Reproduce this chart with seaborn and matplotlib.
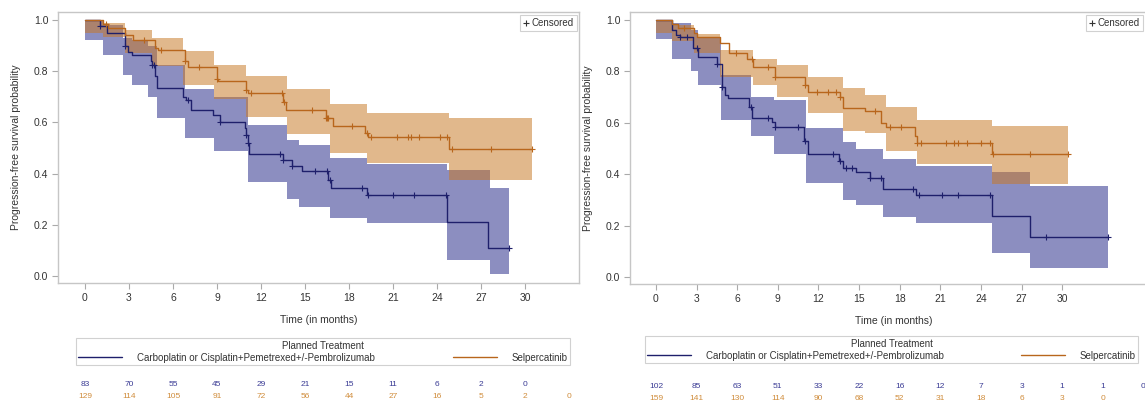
import numpy as np
import pandas as pd
import matplotlib
matplotlib.use("Agg")
import matplotlib.pyplot as plt
import seaborn as sns
from matplotlib.lines import Line2D
from matplotlib import transforms

sns.set_theme(style="white")
plt.rcParams["font.family"] = ["Liberation Sans", "DejaVu Sans"]

ARMS = ["Carboplatin or Cisplatin+Pemetrexed+/-Pembrolizumab", "Selpercatinib"]
LEGEND_TITLE = "Planned Treatment"
X_LABEL = "Time (in months)"
Y_LABEL = "Progression-free survival probability"
X_TICKS = list(range(0, 31, 3))
Y_TICKS = [0.0, 0.2, 0.4, 0.6, 0.8, 1.0]

# ---- Left panel: Kaplan-Meier steps (time of change, survival after it) ----
L_CHEMO_T = [0, 1.0, 1.5, 2.7, 2.9, 3.2, 4.5, 4.6, 4.8, 4.9, 6.7, 6.9, 7.2, 8.7, 9.2,
             10.9, 11.0, 11.1, 11.2, 13.5, 14.1, 14.8, 16.6, 16.8, 19.2, 24.7, 27.5]
L_CHEMO_S = [1.0, 0.975, 0.95, 0.90, 0.875, 0.863, 0.84, 0.824, 0.78, 0.734, 0.70, 0.687, 0.648, 0.629, 0.60,
             0.58, 0.55, 0.52, 0.477, 0.455, 0.43, 0.41, 0.375, 0.343, 0.316, 0.21, 0.109]
L_CHEMO_END = 28.9
L_CHEMO_BT = [0, 1.2, 2.6, 3.2, 4.3, 4.9, 6.8, 8.8, 11.1, 13.8, 14.6, 16.7, 19.2, 24.7, 27.6]
L_CHEMO_LO = [0.92, 0.863, 0.785, 0.746, 0.70, 0.617, 0.54, 0.49, 0.367, 0.30, 0.27, 0.226, 0.207, 0.063, 0.01]
L_CHEMO_HI = [1.0, 0.98, 0.93, 0.92, 0.90, 0.824, 0.73, 0.70, 0.59, 0.53, 0.51, 0.46, 0.437, 0.414, 0.344]
L_CHEMO_CENS = [1.0, 2.7, 4.6, 4.7, 7.0, 9.2, 11.0, 11.1, 13.3, 13.5, 14.1, 15.7, 16.5, 16.7,
                18.9, 19.3, 21.0, 22.4, 24.6, 28.9]

L_SEL_T = [0, 1.2, 1.6, 2.7, 3.3, 4.8, 5.0, 6.8, 7.0, 9.0, 9.1, 11.0, 11.1, 13.5, 13.7,
           16.4, 16.9, 19.1, 19.3, 24.8]
L_SEL_S = [1.0, 0.985, 0.97, 0.94, 0.92, 0.89, 0.883, 0.84, 0.818, 0.77, 0.76, 0.727, 0.714, 0.68, 0.648,
           0.617, 0.585, 0.56, 0.543, 0.496]
L_SEL_END = 30.5
L_SEL_BT = [0, 1.2, 2.7, 4.6, 6.7, 8.8, 11.0, 13.8, 16.7, 19.2, 24.8]
L_SEL_LO = [0.95, 0.934, 0.87, 0.82, 0.745, 0.69, 0.62, 0.555, 0.48, 0.44, 0.375]
L_SEL_HI = [1.0, 0.99, 0.96, 0.93, 0.88, 0.825, 0.78, 0.73, 0.672, 0.637, 0.617]
L_SEL_CENS = [1.4, 4.0, 5.2, 6.8, 7.8, 9.0, 11.0, 11.3, 13.4, 13.6, 15.5, 16.4, 16.5, 16.6, 18.2,
              19.2, 19.5, 21.3, 22.0, 22.2, 22.8, 24.2, 24.7, 25.0, 27.7, 30.5]

L_CHEMO_RISK = [83, 70, 55, 45, 29, 21, 15, 11, 6, 2, 0]
L_SEL_RISK = [129, 114, 105, 91, 72, 56, 44, 27, 16, 5, 2, 0]

# ---- Right panel ----
R_CHEMO_T = [0, 1.2, 1.5, 1.8, 2.75, 3.1, 4.5, 4.9, 5.1, 5.3, 6.9, 7.1, 8.6, 8.8, 10.9, 11.2,
             13.5, 13.8, 14.8, 15.8, 16.8, 19.2, 24.8, 27.6]
R_CHEMO_S = [1.0, 0.96, 0.94, 0.934, 0.89, 0.855, 0.83, 0.74, 0.707, 0.695, 0.66, 0.62, 0.604, 0.582, 0.53, 0.477,
             0.453, 0.426, 0.41, 0.387, 0.344, 0.32, 0.238, 0.156]
R_CHEMO_END = 33.4
R_CHEMO_BT = [0, 1.2, 2.6, 3.1, 4.8, 7.0, 8.7, 11.1, 13.8, 14.8, 16.8, 19.2, 24.8, 27.6]
R_CHEMO_LO = [0.925, 0.85, 0.80, 0.746, 0.61, 0.55, 0.48, 0.367, 0.30, 0.28, 0.232, 0.21, 0.094, 0.035]
R_CHEMO_HI = [1.0, 0.99, 0.96, 0.93, 0.785, 0.70, 0.69, 0.578, 0.525, 0.50, 0.458, 0.433, 0.41, 0.355]
R_CHEMO_CENS = [1.8, 2.3, 3.0, 4.5, 4.9, 7.0, 8.3, 8.8, 10.5, 11.0, 13.1, 13.6, 14.0, 14.5, 15.8,
                16.6, 19.0, 19.4, 21.1, 22.3, 24.7, 28.8, 33.4]

R_SEL_T = [0, 1.2, 1.6, 2.8, 3.0, 4.7, 5.4, 6.7, 7.2, 8.8, 11.0, 11.2, 13.6, 13.8, 15.4,
           16.6, 17.0, 19.1, 19.3, 24.8]
R_SEL_S = [1.0, 0.985, 0.97, 0.95, 0.934, 0.91, 0.87, 0.85, 0.816, 0.777, 0.746, 0.72, 0.70, 0.656, 0.645,
           0.60, 0.582, 0.55, 0.52, 0.48]
R_SEL_END = 30.4
R_SEL_BT = [0, 1.2, 2.8, 4.7, 7.2, 8.9, 11.2, 13.8, 15.4, 17.0, 19.3, 24.8]
R_SEL_LO = [0.95, 0.92, 0.87, 0.777, 0.746, 0.70, 0.64, 0.57, 0.56, 0.49, 0.44, 0.363]
R_SEL_HI = [1.0, 0.98, 0.945, 0.883, 0.85, 0.825, 0.78, 0.737, 0.707, 0.66, 0.61, 0.586]
R_SEL_CENS = [2.1, 5.9, 7.1, 8.3, 8.8, 11.0, 11.9, 12.7, 13.3, 13.6, 16.2, 17.3, 18.1, 19.3, 19.6,
              21.4, 22.0, 22.3, 23.0, 24.0, 24.7, 24.9, 27.6, 30.4]

R_CHEMO_RISK = [102, 85, 63, 51, 33, 22, 16, 12, 7, 3, 1, 1, 0]
R_SEL_RISK = [159, 141, 130, 114, 90, 68, 52, 31, 18, 6, 3, 0]

# ---- Styling ----
LINE_COLORS = {ARMS[0]: "#1e1f6b", ARMS[1]: "#b8661c"}
BAND_COLORS = {ARMS[0]: "#262b88", ARMS[1]: "#c87926"}
RISK_COLORS = {ARMS[0]: "#3b3c95", ARMS[1]: "#d08d3c"}
BAND_ALPHA = 0.53
GRID_GREY = "#c6c6c6"
TEXT_GREY = "#333333"

W, H = 1145, 401
fig = plt.figure(figsize=(W / 100, H / 100), dpi=100)


def px_box(left, top, right, bottom):
    return [left / W, 1 - bottom / H, (right - left) / W, (bottom - top) / H]


def step_value(t, s, x):
    t = np.asarray(t)
    s = np.asarray(s)
    idx = np.clip(np.searchsorted(t, x, side="right") - 1, 0, len(s) - 1)
    return s[idx]


def draw_panel(ax, arms_data, xlim, risk_y, cens_anchor):
    # confidence bands first, Selpercatinib over chemotherapy
    for arm, d in arms_data.items():
        bt = np.r_[d["bt"], d["end"]]
        lo = np.r_[d["lo"], d["lo"][-1]]
        hi = np.r_[d["hi"], d["hi"][-1]]
        ax.fill_between(bt, lo, hi, step="post", color=BAND_COLORS[arm],
                        alpha=BAND_ALPHA, linewidth=0)
    frames = []
    for arm, d in arms_data.items():
        frames.append(pd.DataFrame({"time": np.r_[d["t"], d["end"]],
                                    "surv": np.r_[d["s"], d["s"][-1]],
                                    "arm": arm}))
    df = pd.concat(frames, ignore_index=True)
    sns.lineplot(data=df, x="time", y="surv", hue="arm", palette=LINE_COLORS,
                 estimator=None, sort=False, drawstyle="steps-post",
                 linewidth=1.0, legend=False, ax=ax)
    for arm, d in arms_data.items():
        cx = np.asarray(d["cens"])
        cy = step_value(d["t"], d["s"], cx)
        ax.plot(cx, cy, ls="none", marker="+", ms=4, mew=0.8,
                color=LINE_COLORS[arm])

    ax.set_xlim(*xlim)
    ax.set_ylim(-0.027, 1.031)
    ax.set_xticks(X_TICKS)
    ax.set_yticks(Y_TICKS)
    ax.set_yticklabels([f"{v:.1f}" for v in Y_TICKS])
    ax.set_xlabel(X_LABEL, fontsize=7.5, color=TEXT_GREY, labelpad=9)
    ax.set_ylabel(Y_LABEL, fontsize=7.5, color=TEXT_GREY, labelpad=9)
    ax.tick_params(axis="both", which="both", direction="out", length=4, width=0.8,
                   color="#aaaaaa", labelsize=7.5, labelcolor=TEXT_GREY,
                   bottom=True, left=True, pad=3)
    for sp in ax.spines.values():
        sp.set_color(GRID_GREY)
        sp.set_linewidth(1.0)

    cens = ax.legend(handles=[Line2D([], [], ls="none", marker="+", ms=4, mew=0.8,
                                     color=TEXT_GREY)],
                     labels=["Censored"], loc="upper right", fontsize=7,
                     bbox_to_anchor=(cens_anchor / W, 1 - 15 / H),
                     bbox_transform=fig.transFigure,
                     frameon=True, fancybox=False, edgecolor=GRID_GREY,
                     handlelength=0.6, handletextpad=0.3, borderpad=0.3,
                     borderaxespad=0.0, labelcolor=TEXT_GREY)
    cens.get_frame().set_linewidth(0.8)

    # numbers at risk under the axis
    tr = transforms.blended_transform_factory(ax.transData, fig.transFigure)
    for arm, y in zip(arms_data, risk_y):
        for i, n in enumerate(arms_data[arm]["risk"]):
            ax.text(3 * i, 1 - y / H, str(n), transform=tr, ha="center", va="center",
                    fontsize=6, color=RISK_COLORS[arm], clip_on=False)


def treatment_legend(box_px):
    handles = [Line2D([], [], color=LINE_COLORS[a], lw=1.0) for a in ARMS]
    left, top, right, bottom = box_px
    leg = fig.legend(handles=handles, labels=ARMS, ncol=2, title=LEGEND_TITLE,
                     loc="lower left", mode="expand",
                     bbox_to_anchor=(left / W, 1 - bottom / H, (right - left) / W, (bottom - top) / H),
                     fontsize=7, title_fontsize=7, frameon=True, fancybox=False,
                     edgecolor=GRID_GREY, handlelength=4.5, handletextpad=1.5,
                     columnspacing=0.8, borderpad=0.25, labelspacing=0.2,
                     labelcolor=TEXT_GREY)
    leg.get_title().set_color(TEXT_GREY)
    leg.get_frame().set_linewidth(0.8)
    return leg


ax_l = fig.add_axes(px_box(58, 12, 579, 283))
draw_panel(ax_l,
           {ARMS[0]: dict(t=L_CHEMO_T, s=L_CHEMO_S, end=L_CHEMO_END, bt=L_CHEMO_BT,
                          lo=L_CHEMO_LO, hi=L_CHEMO_HI, cens=L_CHEMO_CENS, risk=L_CHEMO_RISK),
            ARMS[1]: dict(t=L_SEL_T, s=L_SEL_S, end=L_SEL_END, bt=L_SEL_BT,
                          lo=L_SEL_LO, hi=L_SEL_HI, cens=L_SEL_CENS, risk=L_SEL_RISK)},
           xlim=(-1.84, 33.68), risk_y=(384, 396), cens_anchor=577)

ax_r = fig.add_axes(px_box(630, 12, 1157, 284))
draw_panel(ax_r,
           {ARMS[0]: dict(t=R_CHEMO_T, s=R_CHEMO_S, end=R_CHEMO_END, bt=R_CHEMO_BT,
                          lo=R_CHEMO_LO, hi=R_CHEMO_HI, cens=R_CHEMO_CENS, risk=R_CHEMO_RISK),
            ARMS[1]: dict(t=R_SEL_T, s=R_SEL_S, end=R_SEL_END, bt=R_SEL_BT,
                          lo=R_SEL_LO, hi=R_SEL_HI, cens=R_SEL_CENS, risk=R_SEL_RISK)},
           xlim=(-1.92, 37.0), risk_y=(387, 398), cens_anchor=1143)

treatment_legend((71, 338, 575, 370))
treatment_legend((640, 338, 1143, 368))

fig.savefig("out.png", dpi=100)
